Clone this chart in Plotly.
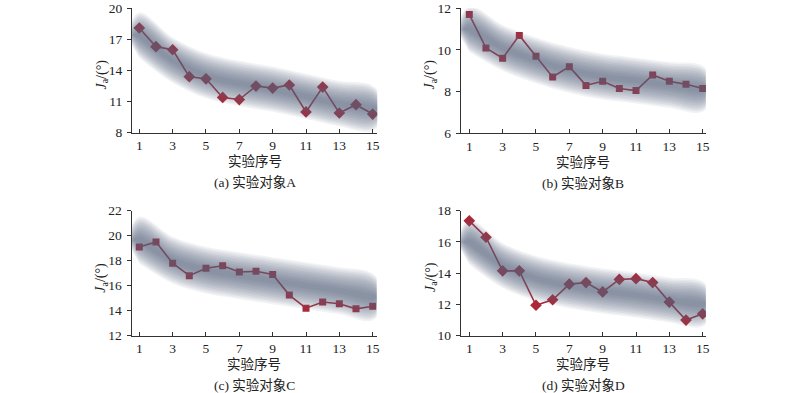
import plotly.graph_objects as go

# ---- data ----
trials = list(range(1, 16))
tick_vals = [1, 3, 5, 7, 9, 11, 13, 15]

vals_a = [18.1, 16.3, 16.0, 13.4, 13.2, 11.4, 11.2, 12.5, 12.3, 12.6, 10.0, 12.4, 9.9, 10.7, 9.8]
vals_b = [11.7, 10.1, 9.6, 10.7, 9.7, 8.7, 9.2, 8.3, 8.5, 8.15, 8.05, 8.8, 8.5, 8.35, 8.15]
vals_c = [19.1, 19.5, 17.8, 16.8, 17.4, 17.6, 17.1, 17.15, 16.9, 15.25, 14.2, 14.7, 14.55, 14.15, 14.35]
vals_d = [17.35, 16.3, 14.15, 14.15, 11.95, 12.3, 13.3, 13.4, 12.8, 13.6, 13.65, 13.4, 12.15, 11.0, 11.4]

# trend band (blurred) centre line
band_x = [1, 3, 5, 7, 9, 11, 13, 15]
band_a = [17.4, 15.0, 13.5, 12.75, 12.2, 11.5, 10.8, 10.35]
band_b = [11.0, 10.1, 9.5, 9.04, 8.72, 8.53, 8.32, 8.13]
band_c = [19.65, 18.05, 17.25, 16.8, 16.4, 16.0, 15.6, 15.1]
band_d = [16.0, 14.5, 13.67, 13.2, 12.86, 12.6, 12.28, 12.03]
band_hw = {"a": 1.75, "b": 0.88, "c": 1.5, "d": 1.15}

y_ranges = {"a": [8, 20], "b": [6, 12], "c": [12, 22], "d": [10, 18]}
y_ticks = {"a": [8, 11, 14, 17, 20], "b": [6, 8, 10, 12], "c": [12, 14, 16, 18, 20, 22], "d": [10, 12, 14, 16, 18]}
captions = {"a": "(a) 实验对象A", "b": "(b) 实验对象B", "c": "(c) 实验对象C", "d": "(d) 实验对象D"}
x_title = "实验序号"
y_title = "<i>J</i><sub>a</sub>/(°)"

W, H = 800, 393
LINE_COLOR = "rgb(172,40,56)"
BAND_RGB = "86,98,128"
FONT = "Liberation Serif, Noto Sans CJK SC, serif"

panels = {
    "a": dict(vals=vals_a, band=band_a, sym="diamond", size=9, x0=132, x1=377.2, yt=8.3, yb=132.7, px1=139.3),
    "b": dict(vals=vals_b, band=band_b, sym="square", size=7, x0=460.7, x1=705.9, yt=8.3, yb=133.3, px1=469.3),
    "c": dict(vals=vals_c, band=band_c, sym="square", size=7, x0=131.5, x1=376.7, yt=210.7, yb=335.7, px1=139.3),
    "d": dict(vals=vals_d, band=band_d, sym="diamond", size=9, x0=460.7, x1=705.9, yt=210.7, yb=335.7, px1=469.3),
}

fig = go.Figure()
annotations = []
layout_axes = {}
PXU = 16.67

for i, (key, p) in enumerate(panels.items(), start=1):
    xa = "x" if i == 1 else f"x{i}"
    ya = "y" if i == 1 else f"y{i}"
    xb, yb = f"x{i + 4}", f"y{i + 4}"
    fig.add_trace(go.Scatter(
        x=trials, y=p["vals"], mode="lines+markers", xaxis=xa, yaxis=ya,
        line=dict(color=LINE_COLOR, width=1.6),
        marker=dict(symbol=p["sym"], size=p["size"], color=LINE_COLOR),
        showlegend=False, hoverinfo="skip"))
    # blurred band drawn on overlaying axes so it tints the line beneath
    hw = band_hw[key]
    n = 14
    for k in range(n):
        f = 0.15 + 1.1 * k / (n - 1)
        h = hw * f
        cap = 0.3 + 0.4 * f
        up_x = [band_x[0] - cap] + band_x + [band_x[-1] + cap]
        up_y = [p["band"][0]] + [c + h for c in p["band"]] + [p["band"][-1]]
        lo_x = band_x[::-1]
        lo_y = [c - h for c in p["band"][::-1]]
        fig.add_trace(go.Scatter(
            x=up_x + lo_x, y=up_y + lo_y, xaxis=xb, yaxis=yb,
            mode="lines", line=dict(width=0, shape="spline", smoothing=1.0),
            fill="toself", fillcolor=f"rgba({BAND_RGB},0.078)",
            showlegend=False, hoverinfo="skip"))

    dom_x = [p["x0"] / W, p["x1"] / W]
    dom_y = [1 - p["yb"] / H, 1 - p["yt"] / H]
    xr0 = 1 - (p["px1"] - p["x0"]) / PXU
    xr1 = xr0 + (p["x1"] - p["x0"]) / PXU
    ax_common = dict(showgrid=False, zeroline=False, showline=True, linecolor="#333",
                     linewidth=1, tickfont=dict(family=FONT, size=13.5, color="#222"),
                     ticklen=4, tickcolor="#333", tickwidth=1, automargin=False)
    layout_axes["xaxis" if i == 1 else f"xaxis{i}"] = dict(
        ax_common, domain=dom_x, range=[xr0, xr1], tickvals=tick_vals, ticks="inside",
        ticklabelstandoff=0, anchor=ya, fixedrange=True)
    layout_axes["yaxis" if i == 1 else f"yaxis{i}"] = dict(
        ax_common, domain=dom_y, range=y_ranges[key], tickvals=y_ticks[key], ticks="outside",
        ticklabelstandoff=2, anchor=xa, fixedrange=True)
    layout_axes[f"xaxis{i + 4}"] = dict(domain=dom_x, range=[xr0, xr1], visible=False,
                                        overlaying=xa, anchor=yb, fixedrange=True)
    layout_axes[f"yaxis{i + 4}"] = dict(domain=dom_y, range=y_ranges[key], visible=False,
                                        overlaying=ya, anchor=xb, fixedrange=True)

    cx = (p["x0"] + p["x1"]) / 2 / W
    annotations.append(dict(text=x_title, x=cx, y=1 - (p["yb"] + 29) / H, xref="paper", yref="paper",
                            showarrow=False, xanchor="center", yanchor="middle",
                            font=dict(family=FONT, size=13.5, color="#222")))
    annotations.append(dict(text=captions[key], x=cx, y=1 - (p["yb"] + 50) / H, xref="paper", yref="paper",
                            showarrow=False, xanchor="center", yanchor="middle",
                            font=dict(family=FONT, size=13.5, color="#222")))
    annotations.append(dict(text=y_title, x=(p["x0"] - 30) / W, y=1 - ((p["yt"] + p["yb"]) / 2 + 4) / H,
                            xref="paper", yref="paper", showarrow=False, textangle=-90,
                            xanchor="center", yanchor="middle",
                            font=dict(family=FONT, size=14, color="#222")))

fig.update_layout(width=W, height=H, margin=dict(l=0, r=0, t=0, b=0),
                  paper_bgcolor="white", plot_bgcolor="rgba(0,0,0,0)",
                  annotations=annotations, **layout_axes)

fig.write_html("out.html", config={"displayModeBar": False},
               post_script="document.body.style.margin='0';document.body.style.overflow='hidden';")
